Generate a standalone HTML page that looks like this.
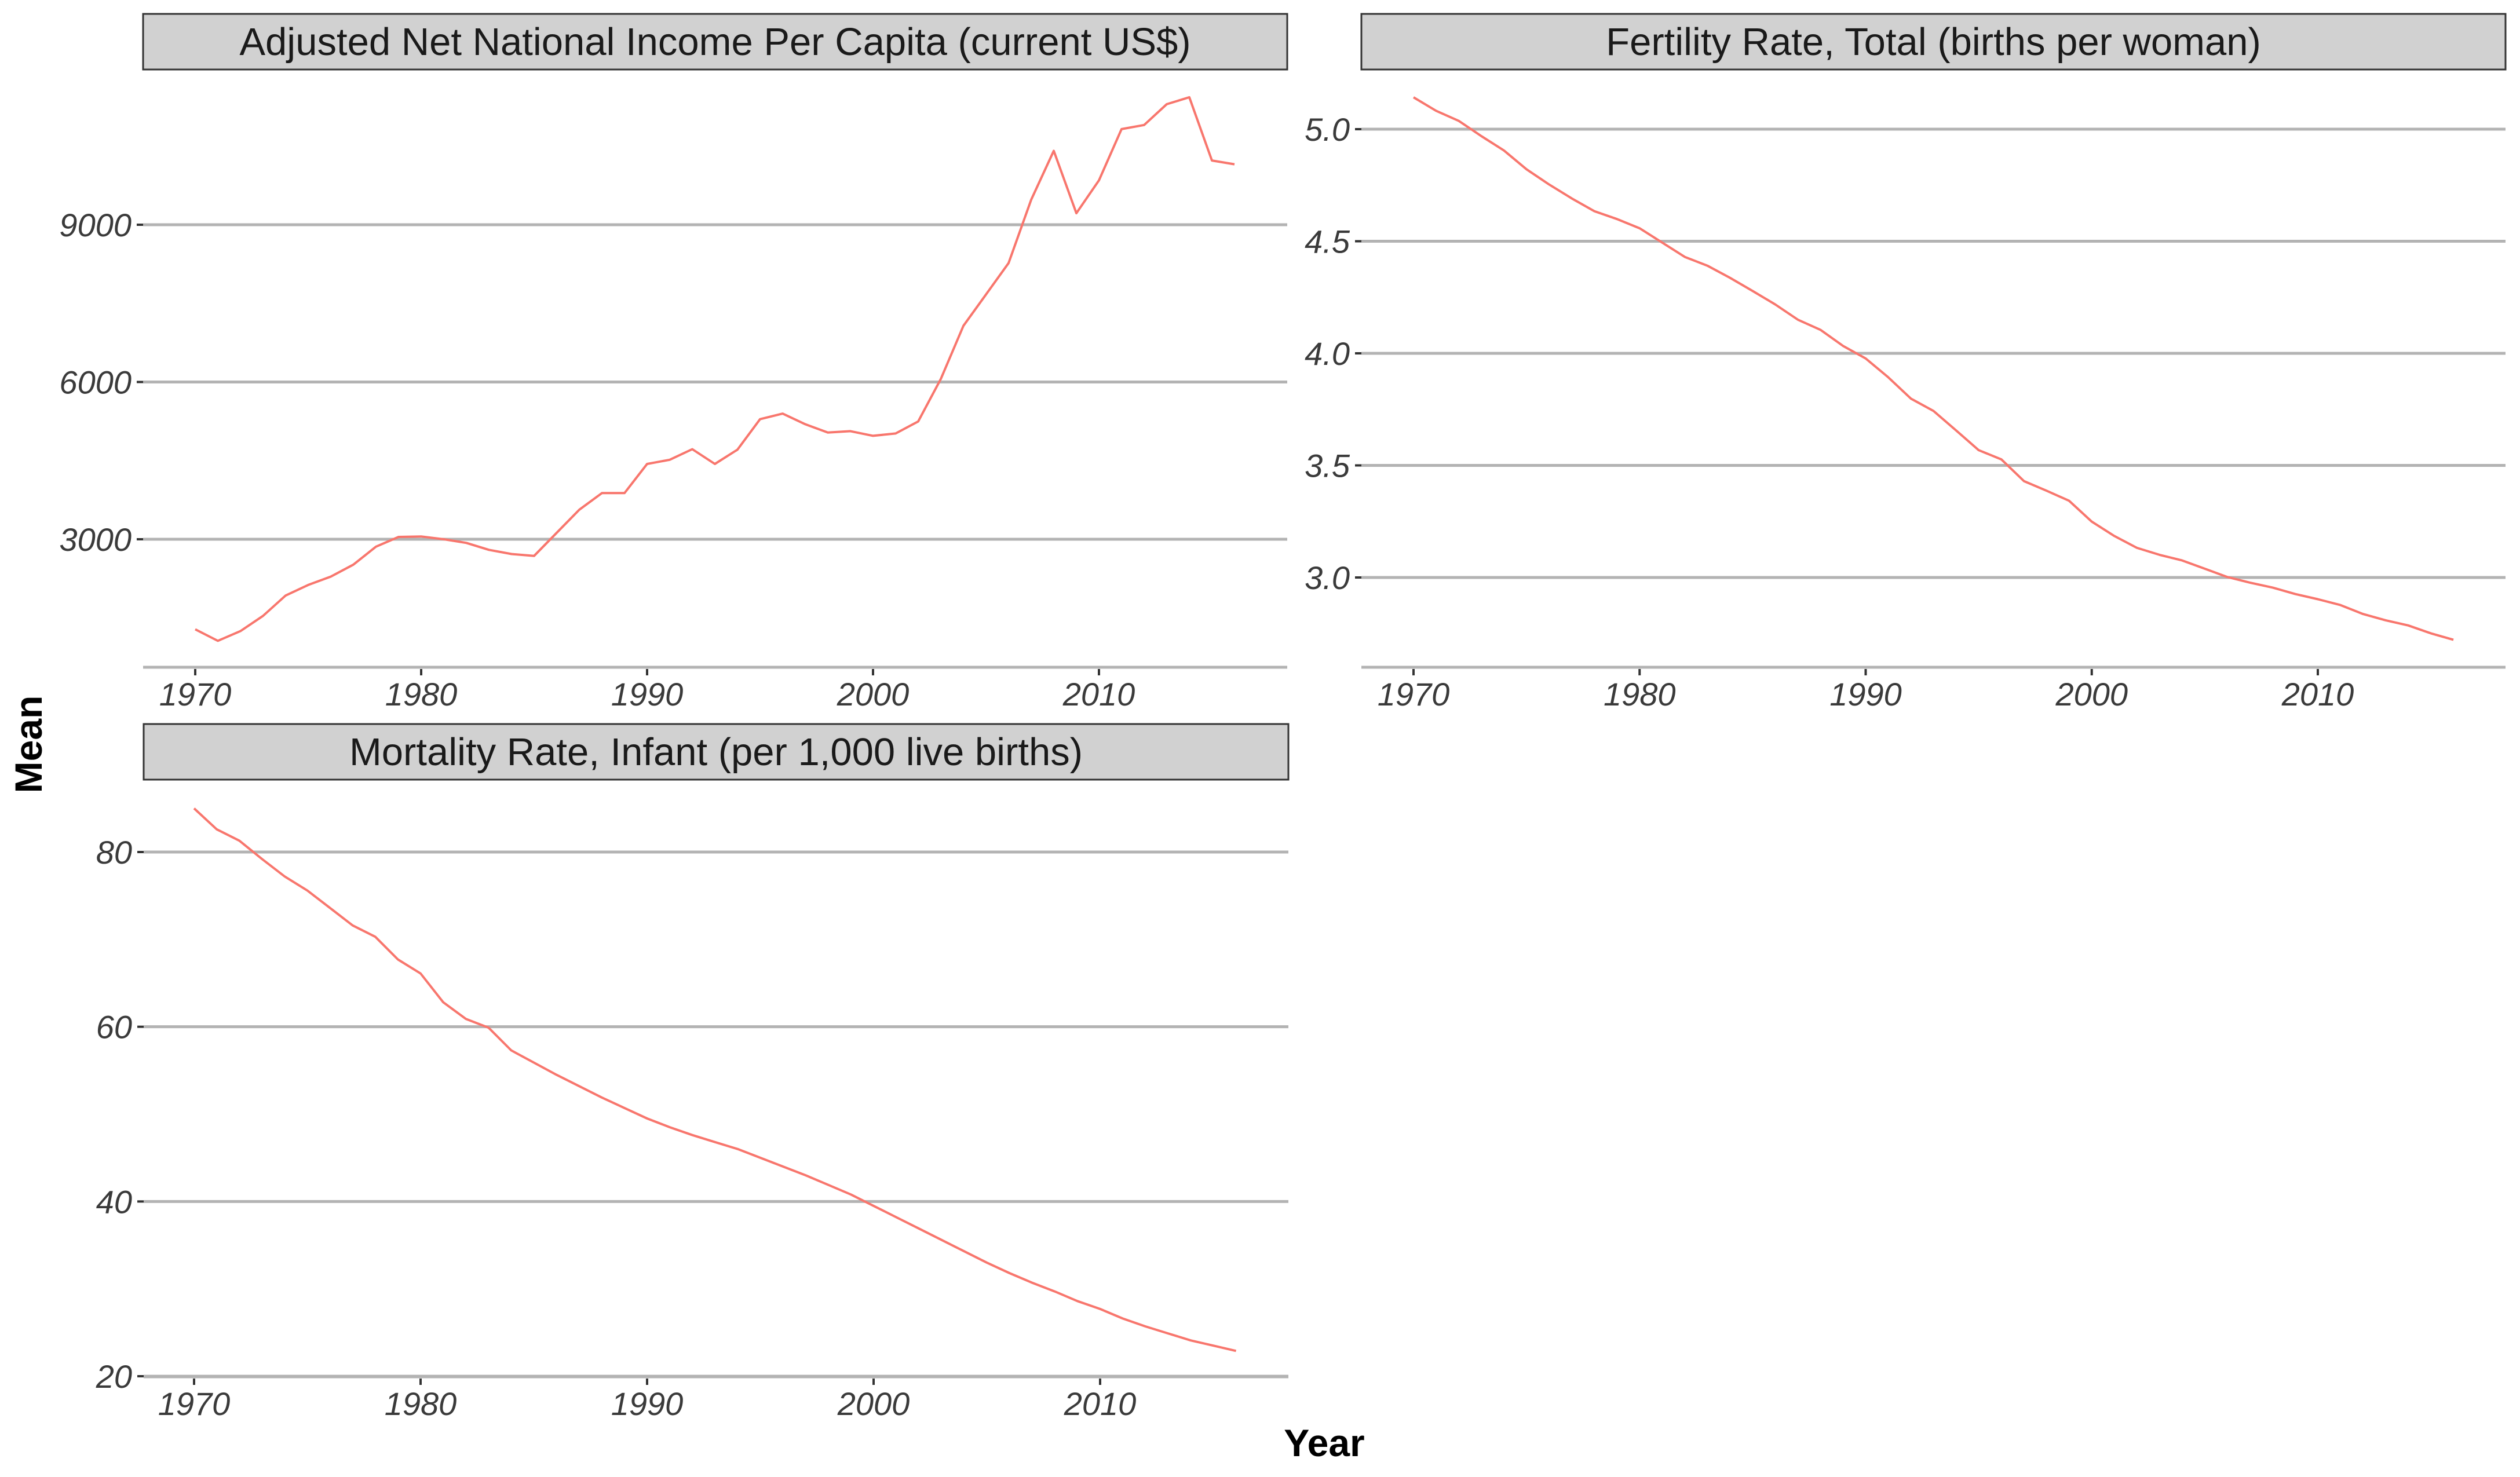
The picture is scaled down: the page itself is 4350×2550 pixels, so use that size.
<!DOCTYPE html>
<html><head><meta charset="utf-8"><style>
html,body{margin:0;padding:0;background:#fff}
svg{display:block}
text{font-family:"Liberation Sans",sans-serif}
.tick{font-size:56px;font-style:italic;fill:#3a3a3a}
.strip{font-size:67px;fill:#1a1a1a}
.ttl{font-size:66px;font-weight:bold;fill:#000}
</style></head><body>
<svg id="chart" width="4350" height="2550" viewBox="0 0 4350 2550"></svg>
<script>
const years = [];
for (let y = 1970; y <= 2016; y++) years.push(y);
const incomeValues = [1282,1062,1247,1538,1926,2128,2287,2516,2859,3044,3053,3000,2930,2798,2718,2683,3124,3564,3881,3881,4436,4516,4718,4436,4709,5291,5397,5194,5036,5062,4974,5018,5247,6057,7071,7670,8269,9476,10410,9220,9846,10824,10903,11299,11432,10225,10154];
const fertilityValues = [5.142,5.082,5.037,4.969,4.905,4.821,4.753,4.691,4.634,4.599,4.558,4.494,4.430,4.391,4.337,4.278,4.218,4.150,4.105,4.033,3.977,3.893,3.798,3.743,3.656,3.568,3.527,3.430,3.387,3.342,3.249,3.185,3.132,3.101,3.076,3.039,3.002,2.977,2.955,2.926,2.903,2.877,2.837,2.809,2.786,2.751,2.722];
const mortalityValues = [85.0,82.6,81.3,79.2,77.2,75.6,73.6,71.6,70.3,67.7,66.1,62.8,60.9,59.9,57.3,55.9,54.5,53.2,51.9,50.7,49.5,48.5,47.6,46.8,46.0,45.0,44.0,43.0,41.9,40.8,39.5,38.2,36.9,35.6,34.3,33.0,31.8,30.7,29.7,28.6,27.7,26.6,25.7,24.9,24.1,23.5,22.9];
const xTicks = [1970,1980,1990,2000,2010];
const incomeTicks = [3000,6000,9000];
const fertilityTicks = [3.0,3.5,4.0,4.5,5.0];
const fertilityTickLabels = ["3.0","3.5","4.0","4.5","5.0"];
const mortalityTicks = [20,40,60,80];
const titles = ["Adjusted Net National Income Per Capita (current US$)","Fertility Rate, Total (births per woman)","Mortality Rate, Infant (per 1,000 live births)"];

const NS = "http://www.w3.org/2000/svg";
const svg = document.getElementById('chart');
function mk(tag, attrs, parent){ const e=document.createElementNS(NS,tag); for(const k in attrs) e.setAttribute(k,attrs[k]); (parent||svg).appendChild(e); return e; }

const panels = [
 {name:'income', title:titles[0], vals:incomeValues, ticks:incomeTicks, labels:incomeTicks.map(String),
  x0:247,x1:2222, sy0:24, sy1:120, axisY:1152, xa:[1970,337],xb:[2010,1897], ya:[3000,931], yb:[9000,388]},
 {name:'fertility', title:titles[1], vals:fertilityValues, ticks:fertilityTicks, labels:fertilityTickLabels,
  x0:2350,x1:4325, sy0:24, sy1:120, axisY:1152, xa:[1970,2440],xb:[2010,4001], ya:[3.0,997], yb:[5.0,223]},
 {name:'mortality', title:titles[2], vals:mortalityValues, ticks:mortalityTicks, labels:mortalityTicks.map(String),
  x0:248,x1:2224, sy0:1250, sy1:1346, axisY:2377, xa:[1970,335],xb:[2010,1899], ya:[20,2376], yb:[80,1471]}
];

panels.forEach(p=>{
  const g = mk('g',{});
  
  
  const xs = v => p.xa[1] + (v-p.xa[0])*(p.xb[1]-p.xa[1])/(p.xb[0]-p.xa[0]);
  const ys = v => p.ya[1] + (v-p.ya[0])*(p.yb[1]-p.ya[1])/(p.yb[0]-p.ya[0]);
  const strip = mk('rect',{x:p.x0,y:p.sy0,width:p.x1-p.x0,height:p.sy1-p.sy0,fill:'#d1d1d1',stroke:'#333','stroke-width':3},g);
  
  
  const st = mk('text',{x:(p.x0+p.x1)/2,y:(p.sy0+p.sy1)/2+23,'text-anchor':'middle',class:'strip'},g);
  st.textContent = p.title;
  
  
  p.ticks.forEach((t,i)=>{
    const y = ys(t);
    const gl = mk('line',{x1:p.x0,x2:p.x1,y1:y,y2:y,stroke:'#b3b3b3','stroke-width':5},g);
    
    
    mk('line',{x1:p.x0-11,x2:p.x0,y1:y,y2:y,stroke:'#333','stroke-width':4},g);
    const tl = mk('text',{x:p.x0-20,y:y+20,'text-anchor':'end',class:'tick'},g);
    tl.textContent = p.labels[i];
    
    
  });
  const ax = mk('line',{x1:p.x0,x2:p.x1,y1:p.axisY,y2:p.axisY,stroke:'#b3b3b3','stroke-width':5},g);
  
  
  xTicks.forEach(t=>{
    const x = xs(t);
    mk('line',{x1:x,x2:x,y1:p.axisY+3,y2:p.axisY+14,stroke:'#333','stroke-width':4},g);
    const tl = mk('text',{x:x,y:p.axisY+66,'text-anchor':'middle',class:'tick'},g);
    tl.textContent = t;
    
    
  });
  const pts = p.vals.map((v,i)=>xs(years[i]).toFixed(1)+','+ys(v).toFixed(1)).join(' ');
  const line = mk('polyline',{points:pts,fill:'none',stroke:'#F8766D','stroke-width':4,'stroke-linejoin':'round'},g);
  
  
});

const yt = mk('text',{x:0,y:0,'text-anchor':'middle',class:'ttl',transform:'translate(72,1285) rotate(-90)'});
yt.textContent = 'Mean';


const xt = mk('text',{x:2286,y:2514,'text-anchor':'middle',class:'ttl'});
xt.textContent = 'Year';


</script>
</body></html>
